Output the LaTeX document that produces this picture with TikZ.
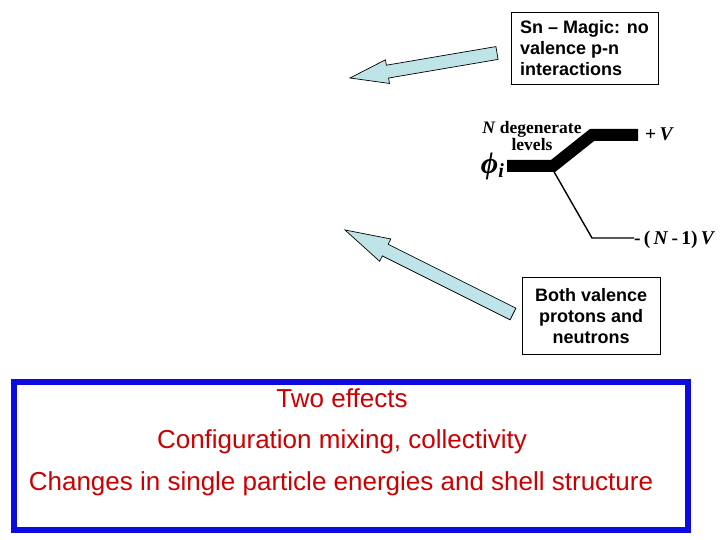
\documentclass[tikz,border=0pt]{standalone}
\usepackage{fontspec}
\usepackage{amsmath}
\setmainfont{Liberation Serif}
\setsansfont{Liberation Sans}
\usetikzlibrary{calc,positioning}
\definecolor{SnSky}{RGB}{190,228,232}
\definecolor{SnBlue}{RGB}{10,10,225}
\definecolor{SnRed}{RGB}{204,0,0}
\tikzset{
  sn/note/.style={
    draw=black,
    thin,
    fill=white,
    align=left,
    text=black,
    inner xsep=9pt,
    inner ysep=4pt,
    font=\sffamily\bfseries\fontsize{18}{21}\selectfont
  },
  sn/notec/.style={sn/note, align=center},
  sn/blockarrow/.style={draw=black, line width=0.7pt, fill=SnSky, line join=miter},
  sn/level/.style={line width=12pt, line join=miter},
  sn/split/.style={line width=1.4pt},
  sn/lvlabel/.style={font=\bfseries\fontsize{17.5}{16}\selectfont, align=center, inner sep=0pt},
  sn/energy/.style={font=\bfseries\fontsize{19.5}{20}\selectfont, inner sep=0pt, anchor=west},
  sn/frame/.style={draw=SnBlue, line width=6pt, fill=white, inner sep=0pt},
  sn/effect/.style={font=\sffamily\fontsize{26}{26}\selectfont, text=SnRed, inner sep=0pt}
}
% block arrow: tail, tip, half shaft, half head, head length
\newcommand{\snarrow}[5]{%
  \draw[sn/blockarrow] let \p1=($(#2)-(#1)$), \n1={atan2(\y1,\x1)}, \n2={veclen(\x1,\y1)} in
    [shift={(#1)}, rotate=\n1] (0,#3) -- (\n2-#5,#3) -- (\n2-#5,#4) -- (\n2,0)
    -- (\n2-#5,-#4) -- (\n2-#5,-#3) -- (0,-#3) -- cycle;}

\begin{document}
\begin{tikzpicture}[x=1pt,y=-1pt]
  \useasboundingbox (0,0) rectangle (720,540);
  % callouts
  \node[sn/note, anchor=north west, minimum width=144pt, minimum height=72pt] (magic) at (511,12) {Sn -- Magic: no\\valence p-n\\interactions};
  \node[sn/notec, anchor=north west, minimum width=138pt, minimum height=77pt] (both) at (522,277) {Both valence\\protons and\\neutrons};
  \coordinate (magicTail) at (497,53);
  \coordinate (magicTip) at (350,78);
  \coordinate (bothTail) at (513,314);
  \coordinate (bothTip) at (345,230);
  \snarrow{magicTail}{magicTip}{6.5}{12}{38}
  \snarrow{bothTail}{bothTip}{6.5}{12.5}{45}
  % level splitting
  \coordinate (lvlL) at (507,166);
  \coordinate (lvlK) at (553,166);
  \coordinate (upL) at (592,135);
  \coordinate (upR) at (638,135);
  \coordinate (dnL) at (592,238);
  \coordinate (dnR) at (634,238);
  \draw[sn/level] (lvlL) -- (lvlK) -- (upL) -- (upR);
  \draw[sn/split] ($(lvlK)+(0,4)$) -- (dnL) -- (dnR);
  \node[inner sep=0pt, anchor=east, font=\bfseries\itshape] (phi) at (504,166) {\fontsize{30}{30}\selectfont ϕ\raisebox{-4pt}{\fontsize{20}{20}\selectfont\textit{i}}};
  \node[sn/lvlabel] (degen) at (532,136) {\textit{N} degenerate\\levels};
  \node[sn/energy] (plusV) at (645,134) {+\,\textit{V}};
  \node[sn/energy] (minusV) at (634,240) {-\,(\,\textit{N}\,-\,1)\,\textit{V}};
  % effects
  \node[sn/frame, anchor=north west, minimum width=674pt, minimum height=148pt] (effects) at (11,379) {};
  \node[sn/effect, anchor=base] (two) at (342,407) {Two effects};
  \node[sn/effect, anchor=base] (mixing) at (342,448) {Configuration mixing, collectivity};
  \node[sn/effect, anchor=base] (shell) at (341,490) {Changes in single particle energies and shell structure};
\end{tikzpicture}
\end{document}
